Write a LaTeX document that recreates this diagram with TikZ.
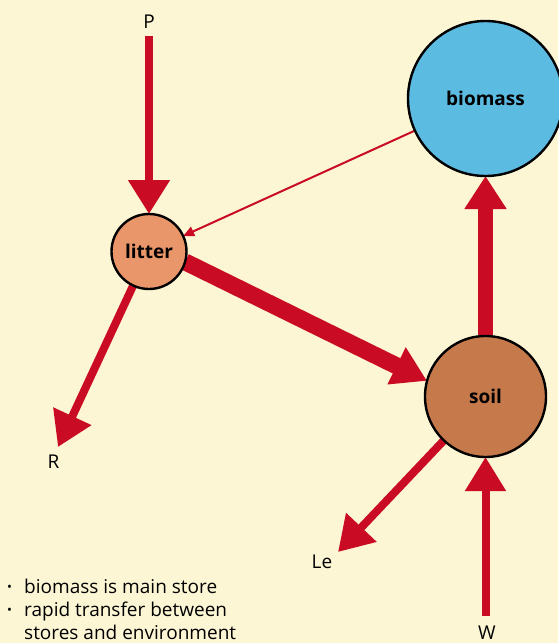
\documentclass[tikz,border=0pt]{standalone}
\usepackage{fontspec}
\setmainfont{Open Sans}
\usetikzlibrary{arrows.meta}

\definecolor{paper}{HTML}{FDF6D5}
\definecolor{flow}{HTML}{C90C24}
\definecolor{biomasscol}{HTML}{5BBBE1}
\definecolor{littercol}{HTML}{E9966A}
\definecolor{soilcol}{HTML}{C67A4B}

\pgfdeclarelayer{paperlayer}
\pgfdeclarelayer{flowlayer}
\pgfsetlayers{paperlayer,flowlayer,main}

\newcommand\dotmark{\makebox[17pt][l]{\raisebox{0.15ex}{\fontsize{13}{13}\selectfont •}}}

\begin{document}
\begin{tikzpicture}[x=1pt,y=-1pt,
  store/.style={circle,draw=black,line width=2.4pt,inner sep=0pt,outer sep=0pt,
    font=\bfseries\fontsize{19}{22}\selectfont},
  tag/.style={inner sep=0pt,font=\fontsize{19}{22}\selectfont},
  note/.style={inner sep=0pt,anchor=base west,font=\fontsize{19}{22}\selectfont},
  flux/.style={draw=flow,line width=8pt,-{Triangle[length=34pt,width=40pt]}},
  bigflux/.style={flux,line width=#1},
  thinflux/.style={draw=flow,line width=2pt,-{Triangle[length=11pt,width=10pt]}}
]
\begin{pgfonlayer}{paperlayer}
  \fill[paper] (0,0) rectangle (558,643);
\end{pgfonlayer}
\useasboundingbox (0,0) rectangle (558,643);

% stores
\node[store,fill=biomasscol,minimum size=155pt] (biomass) at (485.5,98.5) {biomass};
\node[store,fill=littercol,minimum size=75pt] (litter) at (149,251.5) {litter};
\node[store,fill=soilcol,minimum size=121pt] (soil) at (485.5,396.5) {soil};

% external inputs and outputs
\node[tag] (P) at (149,21.5) {P};
\node[tag] (R) at (53.5,461.5) {R};
\node[tag] (Le) at (322,562) {Le};
\node[tag] (W) at (487,632.5) {W};
\coordinate (Pfoot) at (149,36);
\coordinate (Rtip) at (58,447);
\coordinate (Letip) at (338,552);
\coordinate (Wfoot) at (485.5,616);

% transfers
\begin{pgfonlayer}{flowlayer}
  \draw[flux] (Pfoot) -- (litter);
  \draw[flux] (litter) -- (Rtip);
  \draw[thinflux] (biomass) -- (litter);
  \draw[bigflux=17pt,-{Triangle[length=34pt,width=39pt]}] (litter.-16) -- (soil.165);
  \draw[bigflux=15pt,-{Triangle[length=33pt,width=40pt]}] (soil) -- (biomass);
  \draw[flux] (soil) -- (Letip);
  \draw[flux,-{Triangle[length=34pt,width=39pt]}] (Wfoot) -- (soil);
\end{pgfonlayer}

% notes
\node[note] (n1) at (7,593) {\dotmark biomass is main store};
\node[note] (n2) at (7,616) {\dotmark rapid transfer between};
\node[note] (n3) at (24,639) {stores and environment};
\end{tikzpicture}
\end{document}
